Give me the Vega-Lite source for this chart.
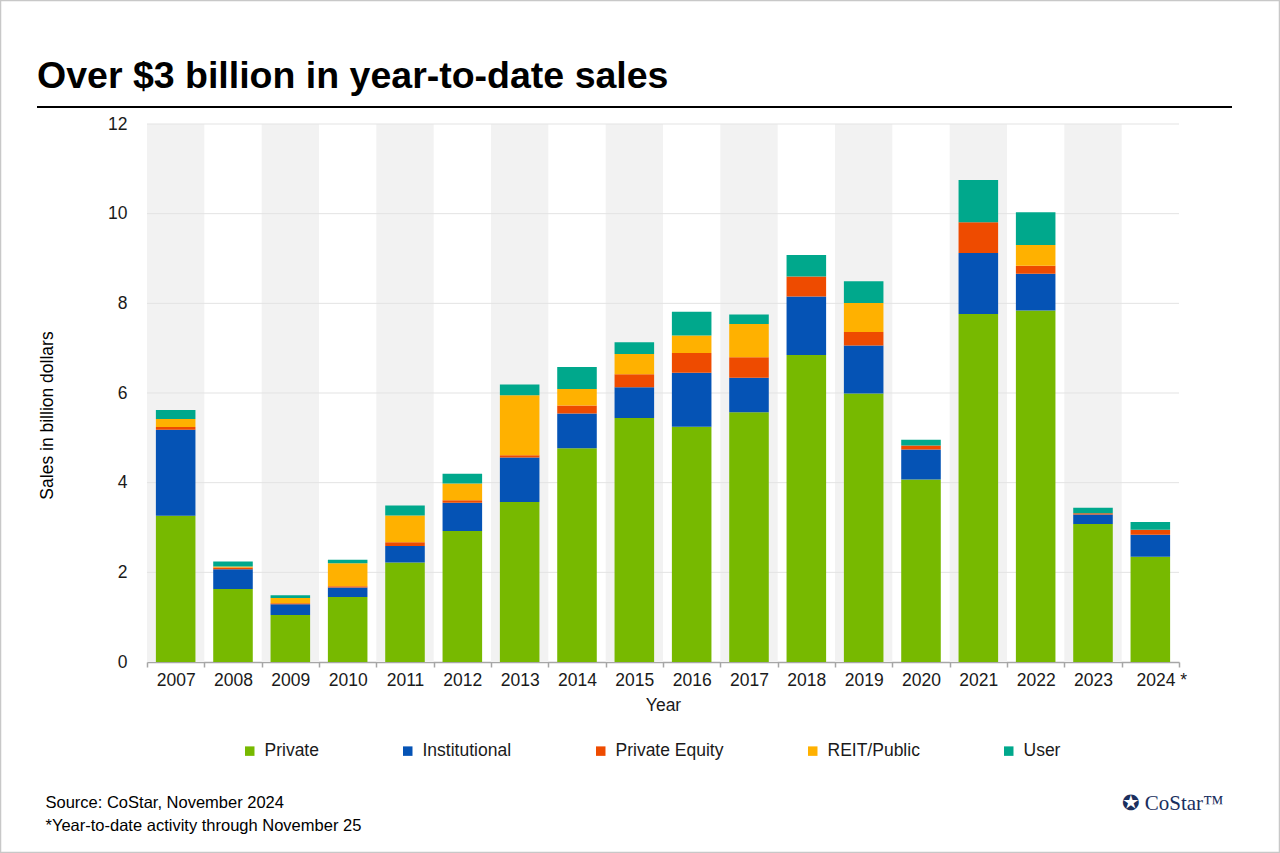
{
  "$schema": "https://vega.github.io/schema/vega-lite/v6.json",
  "width": 1032,
  "height": 538,
  "autosize": "none",
  "padding": {"left": 147, "top": 124, "right": 101, "bottom": 191},
  "background": "white",
  "config": {
    "font": "Liberation Sans",
    "view": {"stroke": null},
    "axis": {"labelFont": "Liberation Sans", "titleFont": "Liberation Sans"}
  },
  "title": {
    "text": "Over $3 billion in year-to-date sales",
    "anchor": "start",
    "frame": "group",
    "dx": -110,
    "offset": -126,
    "baseline": "alphabetic",
    "fontSize": 37.5,
    "fontWeight": "bold",
    "color": "#000000",
    "font": "Liberation Sans"
  },
  "resolve": {"axis": {"x": "independent", "y": "independent"}},
  "layer": [
    {
      "data": {"values": [
        {"Year": "2007"}, {"Year": "2009"}, {"Year": "2011"}, {"Year": "2013"}, {"Year": "2015"},
        {"Year": "2017"}, {"Year": "2019"}, {"Year": "2021"}, {"Year": "2023"}
      ]},
      "mark": {"type": "rect", "color": "#f2f2f2"},
      "encoding": {
        "x": {
          "field": "Year", "type": "ordinal", "sort": "ascending",
          "axis": {
            "orient": "top", "labels": false, "ticks": false, "domain": false, "grid": false,
            "title": "✪ CoStar™",
            "titleFont": "Liberation Serif", "titleFontSize": 21, "titleFontWeight": "normal",
            "titleColor": "#1b2f5e", "titleAngle": 0, "titleAlign": "left", "titleBaseline": "middle",
            "titleX": 974, "titleY": 679
          }
        },
        "y": {"datum": 12, "type": "quantitative", "axis": null},
        "y2": {"datum": 0}
      }
    },
    {
      "data": {"values": [{"v": 2}, {"v": 4}, {"v": 6}, {"v": 8}, {"v": 10}, {"v": 12}]},
      "mark": {"type": "rule", "color": "#e3e3e3", "strokeWidth": 1},
      "encoding": {
        "y": {
          "field": "v", "type": "quantitative",
          "axis": {
            "orient": "right", "labels": false, "ticks": false, "domain": false, "grid": false,
            "title": ["Source: CoStar, November 2024", "*Year-to-date activity through November 25"],
            "titleFontSize": 16.5, "titleFontWeight": "normal", "titleColor": "#000000",
            "titleAngle": 0, "titleAlign": "left", "titleBaseline": "alphabetic",
            "titleLineHeight": 23, "titleX": -1134, "titleY": 683
          }
        }
      }
    },
    {
      "data": {"values": [
        {"Year": "2007", "Type": "Private", "Value": 3.26},
        {"Year": "2007", "Type": "Institutional", "Value": 1.92},
        {"Year": "2007", "Type": "Private Equity", "Value": 0.06},
        {"Year": "2007", "Type": "REIT/Public", "Value": 0.18},
        {"Year": "2007", "Type": "User", "Value": 0.20},
        {"Year": "2008", "Type": "Private", "Value": 1.63},
        {"Year": "2008", "Type": "Institutional", "Value": 0.44},
        {"Year": "2008", "Type": "Private Equity", "Value": 0.04},
        {"Year": "2008", "Type": "REIT/Public", "Value": 0.02},
        {"Year": "2008", "Type": "User", "Value": 0.11},
        {"Year": "2009", "Type": "Private", "Value": 1.05},
        {"Year": "2009", "Type": "Institutional", "Value": 0.24},
        {"Year": "2009", "Type": "Private Equity", "Value": 0.02},
        {"Year": "2009", "Type": "REIT/Public", "Value": 0.12},
        {"Year": "2009", "Type": "User", "Value": 0.06},
        {"Year": "2010", "Type": "Private", "Value": 1.45},
        {"Year": "2010", "Type": "Institutional", "Value": 0.21},
        {"Year": "2010", "Type": "Private Equity", "Value": 0.03},
        {"Year": "2010", "Type": "REIT/Public", "Value": 0.51},
        {"Year": "2010", "Type": "User", "Value": 0.08},
        {"Year": "2011", "Type": "Private", "Value": 2.22},
        {"Year": "2011", "Type": "Institutional", "Value": 0.37},
        {"Year": "2011", "Type": "Private Equity", "Value": 0.08},
        {"Year": "2011", "Type": "REIT/Public", "Value": 0.60},
        {"Year": "2011", "Type": "User", "Value": 0.22},
        {"Year": "2012", "Type": "Private", "Value": 2.92},
        {"Year": "2012", "Type": "Institutional", "Value": 0.63},
        {"Year": "2012", "Type": "Private Equity", "Value": 0.06},
        {"Year": "2012", "Type": "REIT/Public", "Value": 0.37},
        {"Year": "2012", "Type": "User", "Value": 0.22},
        {"Year": "2013", "Type": "Private", "Value": 3.57},
        {"Year": "2013", "Type": "Institutional", "Value": 0.99},
        {"Year": "2013", "Type": "Private Equity", "Value": 0.05},
        {"Year": "2013", "Type": "REIT/Public", "Value": 1.34},
        {"Year": "2013", "Type": "User", "Value": 0.24},
        {"Year": "2014", "Type": "Private", "Value": 4.77},
        {"Year": "2014", "Type": "Institutional", "Value": 0.77},
        {"Year": "2014", "Type": "Private Equity", "Value": 0.18},
        {"Year": "2014", "Type": "REIT/Public", "Value": 0.37},
        {"Year": "2014", "Type": "User", "Value": 0.49},
        {"Year": "2015", "Type": "Private", "Value": 5.44},
        {"Year": "2015", "Type": "Institutional", "Value": 0.69},
        {"Year": "2015", "Type": "Private Equity", "Value": 0.29},
        {"Year": "2015", "Type": "REIT/Public", "Value": 0.45},
        {"Year": "2015", "Type": "User", "Value": 0.26},
        {"Year": "2016", "Type": "Private", "Value": 5.25},
        {"Year": "2016", "Type": "Institutional", "Value": 1.20},
        {"Year": "2016", "Type": "Private Equity", "Value": 0.44},
        {"Year": "2016", "Type": "REIT/Public", "Value": 0.39},
        {"Year": "2016", "Type": "User", "Value": 0.53},
        {"Year": "2017", "Type": "Private", "Value": 5.57},
        {"Year": "2017", "Type": "Institutional", "Value": 0.77},
        {"Year": "2017", "Type": "Private Equity", "Value": 0.46},
        {"Year": "2017", "Type": "REIT/Public", "Value": 0.74},
        {"Year": "2017", "Type": "User", "Value": 0.21},
        {"Year": "2018", "Type": "Private", "Value": 6.85},
        {"Year": "2018", "Type": "Institutional", "Value": 1.30},
        {"Year": "2018", "Type": "Private Equity", "Value": 0.45},
        {"Year": "2018", "Type": "User", "Value": 0.48},
        {"Year": "2019", "Type": "Private", "Value": 5.99},
        {"Year": "2019", "Type": "Institutional", "Value": 1.07},
        {"Year": "2019", "Type": "Private Equity", "Value": 0.30},
        {"Year": "2019", "Type": "REIT/Public", "Value": 0.65},
        {"Year": "2019", "Type": "User", "Value": 0.48},
        {"Year": "2020", "Type": "Private", "Value": 4.07},
        {"Year": "2020", "Type": "Institutional", "Value": 0.67},
        {"Year": "2020", "Type": "Private Equity", "Value": 0.09},
        {"Year": "2020", "Type": "User", "Value": 0.13},
        {"Year": "2021", "Type": "Private", "Value": 7.76},
        {"Year": "2021", "Type": "Institutional", "Value": 1.36},
        {"Year": "2021", "Type": "Private Equity", "Value": 0.69},
        {"Year": "2021", "Type": "User", "Value": 0.94},
        {"Year": "2022", "Type": "Private", "Value": 7.84},
        {"Year": "2022", "Type": "Institutional", "Value": 0.82},
        {"Year": "2022", "Type": "Private Equity", "Value": 0.18},
        {"Year": "2022", "Type": "REIT/Public", "Value": 0.46},
        {"Year": "2022", "Type": "User", "Value": 0.73},
        {"Year": "2023", "Type": "Private", "Value": 3.08},
        {"Year": "2023", "Type": "Institutional", "Value": 0.21},
        {"Year": "2023", "Type": "Private Equity", "Value": 0.03},
        {"Year": "2023", "Type": "User", "Value": 0.12},
        {"Year": "2024", "Type": "Private", "Value": 2.35},
        {"Year": "2024", "Type": "Institutional", "Value": 0.49},
        {"Year": "2024", "Type": "Private Equity", "Value": 0.11},
        {"Year": "2024", "Type": "User", "Value": 0.17}
      ]},
      "transform": [
        {"window": [{"op": "row_number", "as": "stackRank"}], "groupby": ["Year"]}
      ],
      "mark": {"type": "bar", "width": {"band": 0.69}, "strokeWidth": 0},
      "encoding": {
        "x": {
          "field": "Year", "type": "ordinal", "sort": "ascending",
          "scale": {"paddingInner": 0, "paddingOuter": 0},
          "axis": {
            "orient": "bottom", "labelAngle": 0, "labelFontSize": 17.5, "labelColor": "#1a1a1a",
            "labelPadding": 4,
            "labelExpr": "datum.value == '2024' ? '2024   *' : datum.label",
            "labelOffset": {"condition": {"test": "datum.value == '2024'", "value": 11}, "value": 0},
            "domainColor": "#a6a6a6", "domainWidth": 1.5,
            "tickColor": "#a6a6a6", "tickSize": 5, "tickWidth": 1.5, "tickBand": "extent",
            "grid": false,
            "title": "Year", "titleFontSize": 17.5, "titleFontWeight": "normal", "titleColor": "#1a1a1a",
            "titleBaseline": "middle", "titleY": 43
          }
        },
        "y": {
          "field": "Value", "type": "quantitative", "stack": "zero",
          "scale": {"domain": [0, 12], "nice": false},
          "axis": {
            "orient": "left", "values": [0, 2, 4, 6, 8, 10, 12], "format": "d",
            "labelFontSize": 17.5, "labelColor": "#1a1a1a", "labelPadding": 20,
            "ticks": false, "domain": false, "grid": false,
            "title": "Sales in billion dollars", "titleFontSize": 17.5, "titleFontWeight": "normal",
            "titleColor": "#000000", "titleBaseline": "middle", "titleAngle": -90,
            "titleX": -100, "titleY": 291
          }
        },
        "order": {"field": "stackRank", "type": "quantitative", "sort": "ascending"},
        "color": {
          "field": "Type", "type": "nominal",
          "sort": ["Private", "Institutional", "Private Equity", "REIT/Public", "User"],
          "scale": {
            "domain": ["Private", "Institutional", "Private Equity", "REIT/Public", "User"],
            "range": ["#77b900", "#0553b5", "#ee4b00", "#ffb100", "#00a88c"]
          },
          "legend": {
            "orient": "none", "direction": "horizontal", "title": null,
            "legendX": 94, "legendY": 618,
            "symbolType": "square", "symbolSize": 90, "symbolStrokeWidth": 0, "symbolOpacity": 1,
            "labelFontSize": 17.5, "labelColor": "#1a1a1a", "labelOffset": 6, "columnPadding": 80,
            "labelFont": "Liberation Sans"
          }
        }
      }
    },
    {
      "data": {"values": [{}]},
      "mark": {"type": "rule", "color": "#000000", "strokeWidth": 2},
      "encoding": {
        "x": {"value": -110},
        "x2": {"value": 1085},
        "y": {"value": -17}
      }
    },
    {
      "data": {"values": [{}]},
      "mark": {"type": "rect", "fill": null, "fillOpacity": 0, "stroke": "#c8c8c8", "strokeWidth": 1.5},
      "encoding": {
        "x": {"value": -146.5},
        "x2": {"value": 1132.5},
        "y": {"value": -123.5},
        "y2": {"value": 728.5}
      }
    }
  ]
}
